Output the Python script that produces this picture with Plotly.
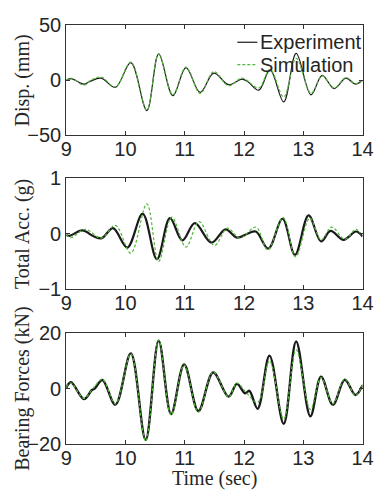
import plotly.graph_objects as go

# ---------------- data ----------------
# Displacement (mm)
disp_t_exp = [9, 9.08, 9.3, 9.4, 9.59, 9.83, 10.09, 10.36, 10.56, 10.80, 11.02, 11.26, 11.49, 11.74, 11.96, 12.06, 12.25, 12.44, 12.67, 12.88, 13.13, 13.32, 13.52, 13.72, 13.88, 14]
disp_exp = [0, 1.5, -3.5, -1, 2, -6.5, 16, -27.5, 24, -14, 11.5, -11, 6.5, -4, 1, -1, -9, 9.4, -19.6, 24.5, -13.2, 4.5, -7.5, 2, -3.5, 0]
disp_t_sim = [9, 9.08, 9.3, 9.4, 9.59, 9.83, 10.09, 10.36, 10.56, 10.80, 11.02, 11.26, 11.49, 11.74, 11.96, 12.06, 12.25, 12.44, 12.67, 12.88, 13.13, 13.32, 13.52, 13.72, 13.88, 14]
disp_sim = [0, 2, -4.5, -0.5, 3, -6, 16.5, -27, 24, -13, 12, -12, 8, -5, 2, -0.5, -7, 10, -15.2, 20, -11.7, 4, -7, 2.5, -3, 0]

# Total acceleration (g)
acc_t_exp = [9, 9.05, 9.27, 9.47, 9.6, 9.79, 10.03, 10.29, 10.53, 10.75, 10.96, 11.17, 11.45, 11.69, 11.88, 12.06, 12.2, 12.41, 12.65, 12.86, 13.09, 13.30, 13.46, 13.68, 13.89, 14]
acc_exp = [-0.02, -0.04, 0.06, -0.05, -0.08, 0.1, -0.25, 0.36, -0.46, 0.28, -0.12, 0.19, -0.16, 0.08, -0.07, 0.0, 0.04, -0.27, 0.27, -0.38, 0.33, -0.14, 0.05, -0.11, 0.04, -0.05]
acc_t_sim = [9, 9.08, 9.32, 9.59, 9.83, 10.09, 10.36, 10.56, 10.78, 11.02, 11.24, 11.5, 11.72, 11.93, 12.2, 12.4, 12.66, 12.87, 13.11, 13.30, 13.48, 13.7, 13.89, 14]
acc_sim = [-0.02, -0.07, 0.08, -0.08, 0.15, -0.35, 0.54, -0.5, 0.3, -0.24, 0.22, -0.21, 0.1, -0.08, 0.12, -0.29, 0.29, -0.42, 0.28, -0.11, 0.12, -0.1, 0.08, -0.05]

# Bearing forces (kN)
force_t_exp = [9, 9.08, 9.3, 9.43, 9.48, 9.61, 9.83, 10.09, 10.34, 10.56, 10.77, 10.99, 11.23, 11.48, 11.74, 11.88, 12.02, 12.09, 12.23, 12.43, 12.67, 12.88, 13.12, 13.30, 13.5, 13.7, 13.88, 14]
force_exp = [0.3, 2.3, -3.8, -0.6, 0, 3.1, -5.8, 12.7, -18.5, 17.3, -9.2, 8.7, -8.1, 5.8, -2.9, 1.7, -1.7, -0.8, -7.3, 11.9, -12.7, 17, -10, 4.3, -5.8, 3.2, -2.3, 1.2]
force_t_sim = [9, 9.08, 9.3, 9.45, 9.61, 9.83, 10.09, 10.34, 10.56, 10.77, 10.99, 11.23, 11.48, 11.74, 11.88, 12.02, 12.23, 12.43, 12.67, 12.88, 13.12, 13.30, 13.5, 13.7, 13.88, 14]
force_sim = [0.5, 2.0, -3.5, 0, 3.3, -5.5, 12.5, -19, 17.5, -9.5, 8.5, -8.5, 6, -3, 2, -1, -5, 10, -11, 14, -7.5, 4, -5.5, 3.5, -2.5, 1.5]

x_ticks = [9, 10, 11, 12, 13, 14]
y_titles = ["Disp. (mm)", "Total Acc. (g)", "Bearing Forces (kN)"]
y_ranges = [[-50, 50], [-1, 1], [-20, 20]]
y_ticks = [[-50, 0, 50], [-1, 0, 1], [-20, 0, 20]]
legend_names = ["Experiment", "Simulation"]

# ---------------- figure ----------------
W, H = 385, 499
EXP_COLOR = "#1a1a1a"
SIM_COLOR = "#52b83a"
AX_COLOR = "#333333"
TXT_COLOR = "#262626"

fig = go.Figure()

series = [
    (disp_t_exp, disp_exp, disp_t_sim, disp_sim, 1.2),
    (acc_t_exp, acc_exp, acc_t_sim, acc_sim, 2.2),
    (force_t_exp, force_exp, force_t_sim, force_sim, 2.4),
]
for i, (te, ye, ts, ys, we) in enumerate(series):
    suffix = "" if i == 0 else str(i + 1)
    fig.add_trace(go.Scatter(x=te, y=ye, mode="lines", name=legend_names[0],
                             line=dict(color=EXP_COLOR, width=we, shape="spline", smoothing=1.0),
                             xaxis="x" + suffix, yaxis="y" + suffix, showlegend=False))
    fig.add_trace(go.Scatter(x=ts, y=ys, mode="lines", name=legend_names[1],
                             line=dict(color=SIM_COLOR, width=1.2, dash="3px,2px", shape="spline", smoothing=1.0),
                             xaxis="x" + suffix, yaxis="y" + suffix, showlegend=False))

# pixel layout of the three panels (top, bottom in px from top)
x0, x1 = 63, 373
panels = [(15, 130), (175, 291), (337, 453)]

axis_common = dict(showline=True, linecolor=AX_COLOR, linewidth=1, mirror="allticks",
                   ticks="inside", ticklen=4, tickcolor=AX_COLOR, showgrid=False, zeroline=False,
                   tickfont=dict(family="Liberation Sans, Arial", size=20, color=TXT_COLOR))

layout = dict(width=W, height=H, margin=dict(l=0, r=0, t=0, b=0),
              paper_bgcolor="white", plot_bgcolor="white", showlegend=False)
for i, (top, bot) in enumerate(panels):
    suffix = "" if i == 0 else str(i + 1)
    layout["xaxis" + suffix] = dict(domain=[x0 / W, x1 / W], range=[9, 14], tickvals=x_ticks,
                                    anchor="y" + suffix, ticklabelstandoff=-4, **axis_common)
    layout["yaxis" + suffix] = dict(domain=[1 - bot / H, 1 - top / H], range=y_ranges[i],
                                    tickvals=y_ticks[i], anchor="x" + suffix, **axis_common)
fig.update_layout(**layout)

annotations = []
for i, (top, bot) in enumerate(panels):
    annotations.append(dict(text=y_titles[i], xref="paper", yref="paper", x=17 / W,
                            y=1 - (top + bot) / 2 / H, textangle=-90, showarrow=False,
                            xanchor="center", yanchor="middle",
                            font=dict(family="Liberation Serif, Times New Roman", size=20, color=TXT_COLOR)))
annotations.append(dict(text="Time (sec)", xref="paper", yref="paper", x=(x0 + x1) / 2 / W,
                        y=1 - 489 / H, showarrow=False, xanchor="center", yanchor="middle",
                        font=dict(family="Liberation Serif, Times New Roman", size=20, color=TXT_COLOR)))

# manual legend inside top panel
leg_rows = [(32.7, legend_names[0], EXP_COLOR, "solid"), (56, legend_names[1], SIM_COLOR, "3px,2px")]
shapes = []
for (yy, name, col, dash) in leg_rows:
    shapes.append(dict(type="line", xref="paper", yref="paper", x0=242 / W, x1=263 / W,
                       y0=1 - yy / H, y1=1 - yy / H, line=dict(color=col, width=1.2, dash=dash)))
    annotations.append(dict(text=name, xref="paper", yref="paper", x=264 / W, y=1 - yy / H,
                            showarrow=False, xanchor="left", yanchor="middle",
                            font=dict(family="Liberation Sans, Arial", size=20, color=TXT_COLOR)))
fig.update_layout(annotations=annotations, shapes=shapes)

fig.write_html("out.html")
